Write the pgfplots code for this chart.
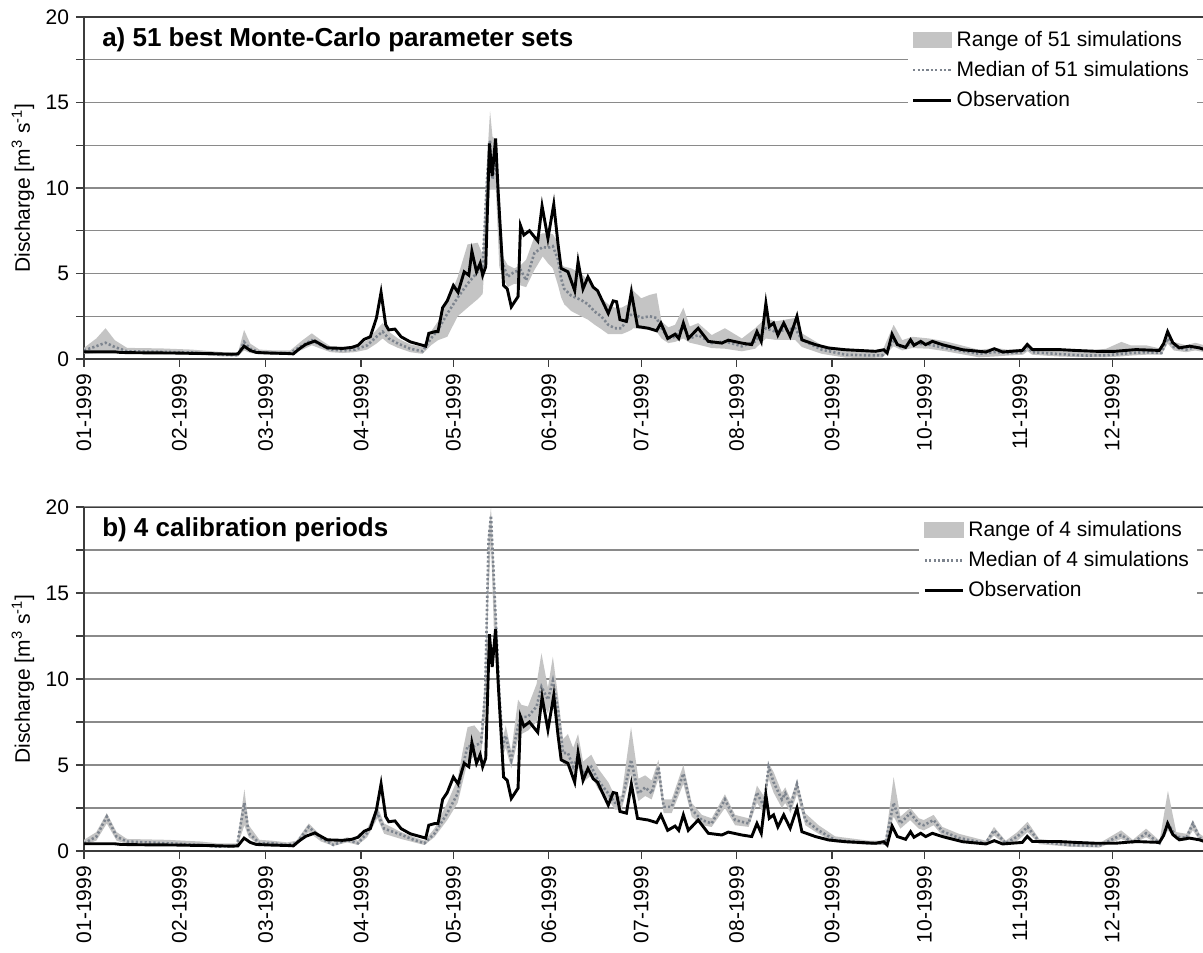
\documentclass[border=0pt]{standalone}
\usepackage{fontspec}
\setmainfont{Liberation Sans}
\usepackage{pgfplots}
\usepackage{pgfplotstable}
\pgfplotsset{compat=1.18}
\usepgfplotslibrary{fillbetween}

\definecolor{gridcol}{RGB}{138,138,138}
\definecolor{rangecol}{RGB}{196,196,196}
\definecolor{medcol}{RGB}{125,132,142}
\definecolor{axcol}{RGB}{60,60,60}

% observed discharge (same in both panels)
\pgfplotstableread{
day val
0 0.42
5 0.42
10 0.42
12 0.38
20 0.36
29 0.35
35 0.33
40 0.32
48 0.28
50 0.3
52 0.75
54 0.5
56 0.38
60 0.35
66 0.32
68 0.3
70 0.6
72 0.85
75 1.05
77 0.85
79 0.65
84 0.62
87 0.68
89 0.8
91 1.15
93 1.3
95 2.4
96.5 3.9
98 2.0
99 1.7
101 1.75
103 1.3
106 1.0
108 0.9
110 0.8
111 0.75
112 1.5
114 1.6
115 1.6
116.5 3.0
118 3.4
120 4.3
121.5 3.9
123.5 5.1
125 4.9
126 6.3
127.5 5.1
128.7 5.6
129.5 4.9
130.5 5.4
131.7 12.6
132.6 10.7
133.7 12.9
134.5 9.9
136.3 4.3
137.5 4.1
138.8 3.05
141 3.65
141.8 7.8
142.9 7.25
144.7 7.5
147.4 6.9
148.8 8.95
150.7 7.05
152.6 9.05
154 6.7
155 5.3
157.2 5.1
159.4 4.0
160.5 5.7
162.1 4.1
163.7 4.8
165.4 4.2
166.8 4.0
170.3 2.67
171.9 3.4
173 3.35
174.1 2.3
176.2 2.2
177.8 3.9
179.8 1.9
183.3 1.8
186 1.65
187.4 2.1
189.6 1.2
192 1.45
193.2 1.2
194.7 2.1
196.3 1.2
199.5 1.8
202.8 1.03
207.2 0.93
209.3 1.1
213.7 0.93
216.9 0.84
218.6 1.6
220 1.03
221.5 3.26
222.6 1.9
224 2.1
225.4 1.4
227.3 2.1
229.4 1.32
231.6 2.5
233.2 1.12
237.6 0.84
241.9 0.64
247.4 0.54
257.1 0.45
259.8 0.54
260.9 0.35
262.5 1.45
264.2 0.84
266.9 0.68
268.5 1.12
269.6 0.8
271.8 1.03
273.4 0.84
275.6 1.03
278.8 0.84
285.4 0.54
293 0.41
295.7 0.6
298.4 0.41
304.8 0.5
306.4 0.85
308.1 0.55
316.8 0.55
322 0.5
328.7 0.45
335 0.45
341.7 0.55
349.3 0.5
350.7 0.9
352 1.6
353.7 0.95
355.8 0.65
359.1 0.75
362.3 0.65
364 0.55
}\obs

% a) 51 Monte-Carlo sets: median, min, max
\pgfplotstableread{
day med lo hi
0 0.5 0.3 0.65
4 0.75 0.35 1.2
7 0.95 0.4 1.8
10 0.7 0.35 1.1
14 0.45 0.3 0.65
25 0.42 0.28 0.62
35 0.38 0.25 0.55
45 0.25 0.15 0.4
50 0.22 0.15 0.35
52 1.0 0.5 1.7
54 0.6 0.35 0.9
57 0.4 0.28 0.55
62 0.35 0.25 0.5
67 0.35 0.25 0.5
71 0.8 0.55 1.1
74 1.1 0.8 1.5
77 0.8 0.6 1.1
80 0.55 0.4 0.75
84 0.5 0.35 0.7
88 0.55 0.4 0.75
92 0.8 0.55 1.1
95 1.3 0.9 1.7
97 1.6 1.2 2.1
99 1.2 0.9 1.6
102 0.9 0.65 1.2
106 0.6 0.4 0.85
110 0.45 0.3 0.7
112.7 1.2 0.8 1.6
115 1.7 1.1 2.2
118 2.65 1.3 3.3
121.4 3.6 2.5 4.8
124.6 4.4 3.0 6.7
127.9 5.1 3.5 6.8
129.5 5.4 3.8 6.1
130.9 10.5 7.7 11.5
131.9 12.8 9.9 14.5
132.7 10.5 9.9 13.0
133.8 11.6 9.9 12.8
134.9 8.5 5.4 9.0
136 5.6 4.8 6.0
137.6 4.8 4.2 5.5
139.8 5.1 4.4 5.3
141.9 5.2 4.3 5.5
143.6 4.6 4.2 5.8
146.3 6.2 5.2 7.15
149 6.55 6.0 7.35
150.7 6.5 5.6 7.35
152.3 6.6 5.3 7.3
154 5.8 4.3 6.8
155 4.7 3.6 5.5
156 4.1 3.2 5.4
158.3 3.7 2.8 5.3
161.5 3.45 2.5 5.0
163.7 3.2 2.3 4.6
165.9 2.77 2.0 4.1
168 2.5 1.75 3.55
170.3 2.0 1.45 3.2
172.4 1.8 1.45 3.0
174.6 1.8 1.45 3.0
176.7 2.4 1.6 3.2
177.8 2.6 1.7 4.5
178.4 2.67 1.8 4.0
181 2.4 1.75 3.55
183.8 2.5 1.7 3.75
186 2.4 1.6 3.85
187.6 1.8 1.2 2.2
189.8 1.2 0.93 1.85
192 1.3 1.0 2.0
194.7 1.9 1.2 3.0
196.8 1.2 0.95 1.9
199.5 1.4 0.84 2.1
203.9 0.93 0.64 1.4
208.2 1.03 0.6 1.8
213.7 0.74 0.45 1.2
218 1.03 0.6 1.8
221.5 1.8 1.2 2.4
224.5 1.6 1.12 2.2
227.8 1.7 1.12 2.3
231 1.8 1.12 2.4
233.2 1.12 0.7 1.5
239.7 0.54 0.3 0.8
247.4 0.25 0.08 0.6
253 0.22 0.06 0.54
259.3 0.21 0.08 0.45
263 1.03 0.74 2.0
265.8 0.64 0.5 1.1
269 0.93 0.64 1.3
274.5 0.84 0.6 1.2
279.9 0.64 0.45 1.03
290.7 0.3 0.1 0.54
296.2 0.41 0.15 0.64
300 0.35 0.2 0.55
305 0.4 0.25 0.6
306.5 0.7 0.45 0.95
308 0.4 0.25 0.6
316 0.3 0.15 0.5
325 0.2 0.1 0.45
332 0.22 0.1 0.6
337 0.3 0.15 1.0
340 0.35 0.2 0.8
345 0.4 0.25 0.8
350 0.35 0.25 0.6
352 1.2 0.9 1.6
354 0.7 0.5 1.0
358 0.55 0.4 0.8
361 0.7 0.5 0.95
364 0.6 0.4 0.8
}\simA

% b) 4 calibration periods: median, min, max
\pgfplotstableread{
day med lo hi
0 0.45 0.35 0.65
4 0.83 0.6 1.1
7.4 2.0 1.6 2.2
10.6 0.83 0.6 1.1
14 0.55 0.4 0.7
27 0.45 0.35 0.65
38 0.35 0.25 0.55
43 0.25 0.2 0.45
49.7 0.3 0.22 0.45
52.1 2.8 1.5 3.6
53.5 1.05 0.8 1.5
57 0.45 0.35 0.65
61 0.45 0.35 0.6
66 0.35 0.28 0.5
69 0.45 0.35 0.6
73 1.4 1.1 1.6
77 0.75 0.55 0.9
81 0.35 0.3 0.5
85.5 0.65 0.5 0.8
89 0.45 0.35 0.6
92 1.05 0.8 1.3
95.3 2.2 1.9 2.6
97.5 1.3 1.0 1.6
103 0.95 0.7 1.1
107.3 0.64 0.5 0.8
110.6 0.45 0.35 0.6
113.8 1.0 0.8 1.3
118 2.2 1.8 2.8
121.4 3.35 2.8 4.2
123 4.9 4.0 5.8
124.6 6.1 5.2 7.2
126.8 6.1 5.5 7.3
129 6.3 5.6 6.8
130.3 9.2 8.0 10.0
131.4 18.0 15.0 18.5
132.2 19.5 18.0 20.0
133.3 15.2 12.0 16.0
134.9 9.2 8.5 10.0
136 6.1 5.5 6.5
137 6.7 6.0 7.3
138.8 5.3 4.8 5.8
141 7.3 6.5 8.8
142.1 7.8 6.8 8.5
144.2 7.8 7.0 8.4
147 8.4 7.5 9.7
148.6 9.55 8.8 11.5
150.7 8.8 8.0 9.5
152.3 9.9 9.0 11.3
154 8.2 7.5 9.0
155.6 5.7 5.0 6.5
157.2 5.7 5.2 6.8
158.9 4.9 4.5 6.0
160.5 5.5 4.9 6.8
162.1 4.5 4.0 5.2
164.8 4.9 4.4 5.6
167 4.1 3.6 4.8
170.3 3.35 3.0 4.0
172.5 2.8 2.4 3.2
174.6 2.8 2.4 3.2
177.7 5.3 4.5 7.2
180.1 3.35 2.9 4.2
182.3 3.7 3.2 4.4
184.4 3.35 3.0 4.1
186.6 4.9 4.2 5.3
188.3 2.57 2.2 3.0
190.9 2.57 2.2 3.0
194.7 4.5 3.9 5.0
197.4 2.4 2.0 2.8
200.7 1.8 1.5 2.1
203.9 1.6 1.4 1.9
208.2 3.0 2.5 3.3
211.5 1.8 1.5 2.1
215.9 1.6 1.4 1.9
218.6 3.4 2.8 3.8
220.8 2.6 2.2 3.2
222.4 4.9 4.2 5.1
224 4.0 3.4 4.6
226.7 3.0 2.5 3.4
227.8 3.35 2.8 3.7
229.5 2.6 2.2 3.0
231.6 3.9 3.3 4.1
234.3 1.8 1.5 2.2
238.6 1.2 1.0 1.5
244 0.64 0.5 0.85
255 0.45 0.35 0.6
260.3 0.45 0.35 0.6
263 2.8 2.0 4.3
265.2 1.6 1.3 2.0
268.4 2.2 1.8 2.5
271.2 1.6 1.3 1.9
272.8 1.5 1.2 1.8
276 1.8 1.5 2.1
278.8 1.15 0.9 1.4
284.2 0.76 0.6 1.0
292.9 0.45 0.35 0.6
295.6 1.2 0.9 1.4
299.4 0.45 0.35 0.6
303.2 0.84 0.6 1.1
306.5 1.4 1.1 1.7
310.3 0.55 0.4 0.7
320 0.35 0.25 0.5
329.8 0.3 0.2 0.45
336.9 0.93 0.7 1.2
340.7 0.49 0.4 0.65
345 1.03 0.8 1.3
349.4 0.45 0.35 0.6
352.1 1.6 1.2 3.5
354.8 0.84 0.65 1.1
358.1 0.76 0.6 1.0
360.2 1.6 1.2 1.8
362.4 0.76 0.6 1.0
364 0.64 0.5 0.8
}\simB

\newcommand\fs{\fontsize{10.5}{12.6}\selectfont}

\pgfplotsset{
  qpanel/.style={
    scale only axis,
    width=559.5pt,
    height=171pt,
    xmin=0, xmax=363.5,
    ymin=0, ymax=20,
    axis x line=bottom,
    axis y line=left,
    axis line style={-, axcol, line width=0.7pt},
    xtick={0,31,59,90,120,151,181,212,243,273,304,334},
    xticklabels={01-1999,02-1999,03-1999,04-1999,05-1999,06-1999,07-1999,08-1999,09-1999,10-1999,11-1999,12-1999},
    xticklabel style={rotate=90, anchor=east, font=\fs},
    ytick={0,5,...,20},
    minor y tick num=1,
    yticklabel style={font=\fs},
    /pgf/number format/assume math mode=true,
    tick align=outside,
    major tick length=4pt,
    minor tick length=4pt,
    tick style={axcol, line width=0.6pt},
    ymajorgrids, yminorgrids,
    major grid style={gridcol, line width=0.6pt},
    minor grid style={gridcol, line width=0.6pt},
    ylabel={Discharge [m\textsuperscript{3} s\textsuperscript{-1}]},
    ylabel style={font=\fs, at={(axis description cs:-0.0545,0.5)}, anchor=center},
    legend cell align=left,
    legend style={draw=none, fill=white, font=\fs, at={(0.995,0.984)}, anchor=north east,
      row sep=2pt, inner sep=2pt},
    legend image code/.code={\draw[#1] (0cm,0cm) -- (0.67cm,0cm);},
  },
}

\begin{document}
\begin{tikzpicture}
\begin{axis}[qpanel]
\draw[axcol, line width=0.7pt] (rel axis cs:0,1) -- (rel axis cs:1,1);
\addplot[name path=ahi, draw=none, forget plot] table[x=day, y=hi] {\simA};
\addplot[name path=alo, draw=none, forget plot] table[x=day, y=lo] {\simA};
\addplot[rangecol, legend image code/.code={\fill[rangecol] (0cm,-0.13cm) rectangle (0.67cm,0.13cm);}]
  fill between[of=ahi and alo];
\addplot[medcol, line width=1.3pt, dash pattern=on 1.1pt off 1.1pt] table[x=day, y=med] {\simA};
\addplot[black, line width=1.45pt] table[x=day, y=val] {\obs};
\legend{Range of 51 simulations, Median of 51 simulations, Observation}
\node[anchor=west, font=\fontsize{13}{15}\selectfont\bfseries] at (rel axis cs:0.01,0.933)
  {a) 51 best Monte-Carlo parameter sets};
\end{axis}

\begin{axis}[qpanel, at={(0,-246pt)}, height=172pt]
\draw[axcol, line width=0.7pt] (rel axis cs:0,1) -- (rel axis cs:1,1);
\addplot[name path=bhi, draw=none, forget plot] table[x=day, y=hi] {\simB};
\addplot[name path=blo, draw=none, forget plot] table[x=day, y=lo] {\simB};
\addplot[rangecol, legend image code/.code={\fill[rangecol] (0cm,-0.13cm) rectangle (0.67cm,0.13cm);}]
  fill between[of=bhi and blo];
\addplot[medcol, line width=1.3pt, dash pattern=on 1.1pt off 1.1pt] table[x=day, y=med] {\simB};
\addplot[black, line width=1.45pt] table[x=day, y=val] {\obs};
\legend{Range of 4 simulations, Median of 4 simulations, Observation}
\node[anchor=west, font=\fontsize{13}{15}\selectfont\bfseries] at (rel axis cs:0.01,0.933)
  {b) 4 calibration periods};
\end{axis}
\pgfresetboundingbox
\path[use as bounding box] (-42pt,-296.5pt) rectangle (559.5pt,179.5pt);
\end{tikzpicture}
\end{document}
